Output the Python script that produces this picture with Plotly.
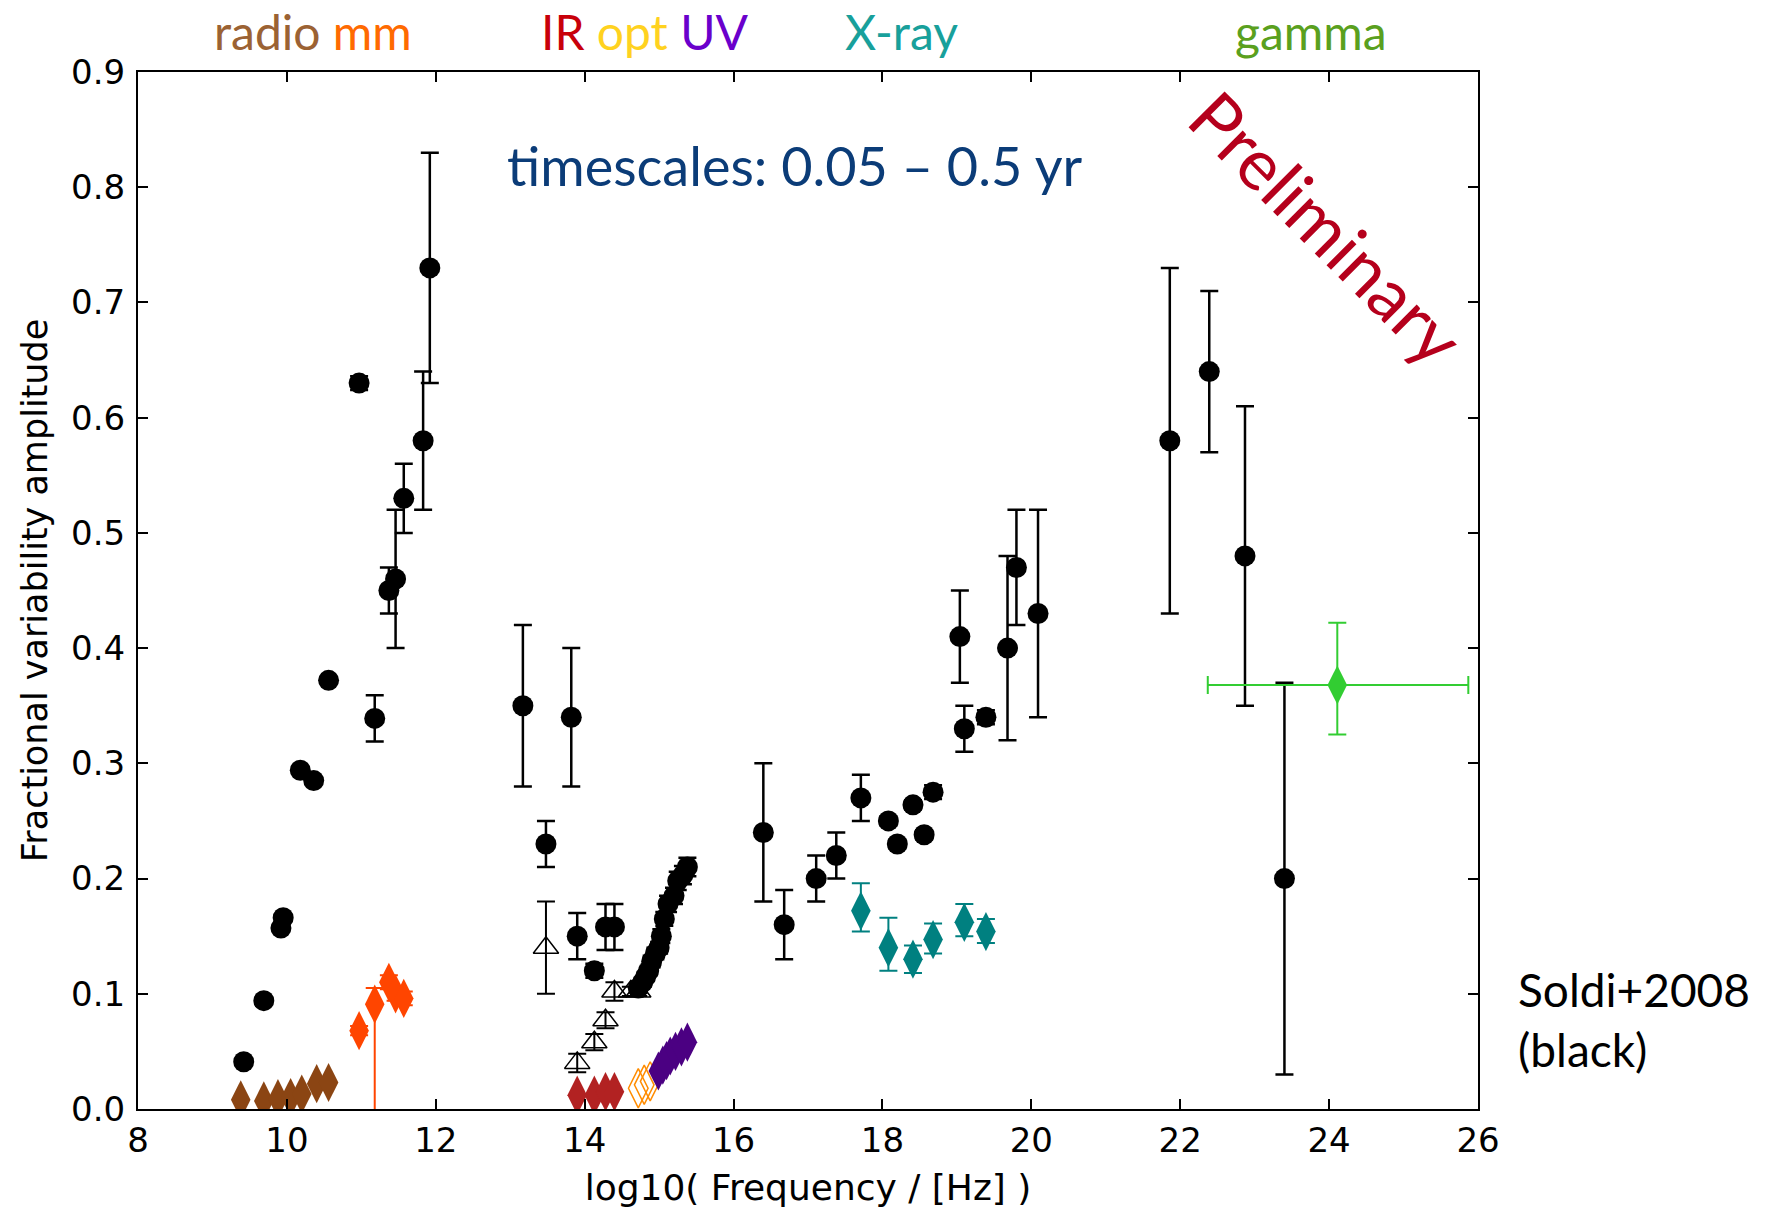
import plotly.graph_objects as go

# ---- Soldi+2008 (black circles) ----
blk_x = [9.42, 9.69, 9.92, 9.95, 10.18, 10.36, 10.56, 10.97, 11.18, 11.37, 11.46, 11.57, 11.83, 11.92,
         13.17, 13.82, 13.48, 13.90, 14.13, 14.28, 14.40,
         14.72, 14.78, 14.82, 14.86, 14.90, 14.95, 15.00, 15.03, 15.07, 15.12, 15.20, 15.25, 15.32, 15.38,
         16.40, 16.68, 17.11, 17.38, 17.71, 18.08, 18.20, 18.41, 18.56, 18.68,
         19.04, 19.10, 19.39, 19.68, 19.80, 20.09, 21.86, 22.39, 22.87, 23.40]
blk_y = [0.041, 0.094, 0.157, 0.166, 0.294, 0.285, 0.372, 0.630, 0.339, 0.450, 0.460, 0.530, 0.580, 0.730,
         0.350, 0.340, 0.230, 0.150, 0.120, 0.158, 0.158,
         0.105, 0.110, 0.115, 0.120, 0.128, 0.135, 0.140, 0.150, 0.165, 0.178, 0.185, 0.198, 0.203, 0.210,
         0.240, 0.160, 0.200, 0.220, 0.270, 0.250, 0.230, 0.264, 0.238, 0.275,
         0.410, 0.330, 0.340, 0.400, 0.470, 0.430, 0.580, 0.640, 0.480, 0.200]
blk_err = [0, 0, 0, 0, 0, 0, 0, 0.006, 0.020, 0.020, 0.060, 0.030, 0.060, 0.100,
           0.070, 0.060, 0.020, 0.020, 0.006, 0.020, 0.020,
           0.004, 0.004, 0.004, 0.004, 0.005, 0.005, 0.005, 0.006, 0.006, 0.007, 0.007, 0.008, 0.008, 0.008,
           0.060, 0.030, 0.020, 0.020, 0.020, 0.004, 0.004, 0.004, 0.004, 0.006,
           0.040, 0.020, 0.006, 0.080, 0.050, 0.090, 0.150, 0.070, 0.130, 0.170]

# ---- open triangles ----
tri_x = [13.48, 13.90, 14.13, 14.28, 14.40, 14.62, 14.72]
tri_y = [0.140, 0.040, 0.058, 0.077, 0.102, 0.102, 0.102]
tri_err = [0.040, 0.008, 0.007, 0.007, 0.008, 0.004, 0.004]

# ---- radio (brown) ----
rad_x = [9.38, 9.69, 9.88, 10.05, 10.20, 10.40, 10.56]
rad_y = [0.008, 0.007, 0.009, 0.010, 0.013, 0.022, 0.023]

# ---- mm (orange-red) ----
mm_x = [10.97, 11.18, 11.37, 11.46, 11.57]
mm_y = [0.068, 0.091, 0.110, 0.100, 0.096]
mm_errp = [0.004, 0.014, 0.006, 0.006, 0.006]
mm_errm = [0.004, 0.120, 0.006, 0.006, 0.006]

# ---- IR (firebrick) ----
ir_x = [13.90, 14.13, 14.28, 14.40]
ir_y = [0.012, 0.012, 0.015, 0.015]

# ---- optical (orange open) ----
opt_x = [14.72, 14.80, 14.88]
opt_y = [0.018, 0.021, 0.024]

# ---- UV (indigo) ----
uv_x = [14.99, 15.05, 15.10, 15.15, 15.22, 15.30, 15.38]
uv_y = [0.033, 0.038, 0.042, 0.046, 0.050, 0.054, 0.058]

# ---- X-ray (teal) ----
xr_x = [17.71, 18.08, 18.41, 18.68, 19.10, 19.39]
xr_y = [0.172, 0.140, 0.130, 0.147, 0.162, 0.154]
xr_errp = [0.024, 0.026, 0.012, 0.014, 0.016, 0.011]
xr_errm = [0.018, 0.020, 0.012, 0.012, 0.012, 0.010]

# ---- gamma (green) ----
gam_x = [24.11]
gam_y = [0.368]
gam_xerrp = [1.76]
gam_xerrm = [1.74]
gam_yerrp = [0.054]
gam_yerrm = [0.043]

x_ticks = [8, 10, 12, 14, 16, 18, 20, 22, 24, 26]
y_ticks = [0.0, 0.1, 0.2, 0.3, 0.4, 0.5, 0.6, 0.7, 0.8, 0.9]

fig = go.Figure()

DSIZE = 28

def diamonds(x, y, color, size=DSIZE, errp=None, errm=None, open_=False, ecolor=None, lw=1.5):
    ey = None
    if errp is not None:
        ey = dict(type='data', symmetric=False, array=errp, arrayminus=errm,
                  color=ecolor or color, thickness=2, width=9)
    fig.add_trace(go.Scatter(
        x=x, y=y, mode='markers', error_y=ey,
        marker=dict(symbol='diamond-tall-open' if open_ else 'diamond-tall', size=size, color=color,
                    line=dict(color=color, width=lw if open_ else 0)),
        showlegend=False))

diamonds(rad_x, rad_y, '#8B4513')
diamonds(mm_x, mm_y, '#FF4500', errp=mm_errp, errm=mm_errm)

fig.add_trace(go.Scatter(
    x=tri_x, y=tri_y, mode='markers',
    error_y=dict(type='data', array=tri_err, color='black', thickness=2, width=9),
    marker=dict(symbol='triangle-up-open', size=22, color='black', line=dict(color='black', width=1.5)),
    showlegend=False))

fig.add_trace(go.Scatter(
    x=blk_x, y=blk_y, mode='markers',
    error_y=dict(type='data', array=blk_err, color='black', thickness=2.5, width=9),
    marker=dict(symbol='circle', size=21, color='black'),
    showlegend=False))

diamonds(ir_x, ir_y, '#B22222')
diamonds(opt_x, opt_y, '#FF8C00', open_=True, lw=1.5)
diamonds(uv_x, uv_y, '#4B0082')
diamonds(xr_x, xr_y, '#008080', errp=xr_errp, errm=xr_errm)

fig.add_trace(go.Scatter(
    x=gam_x, y=gam_y, mode='markers',
    error_x=dict(type='data', symmetric=False, array=gam_xerrp, arrayminus=gam_xerrm,
                 color='#32CD32', thickness=2, width=9),
    error_y=dict(type='data', symmetric=False, array=gam_yerrp, arrayminus=gam_yerrm,
                 color='#32CD32', thickness=2, width=9),
    marker=dict(symbol='diamond-tall', size=DSIZE, color='#32CD32'),
    showlegend=False))

ann_font = "Lato"
top_y = 1.039
annotations = [
    dict(x=10.35, y=top_y, xref='x', yref='paper', showarrow=False, yanchor='middle', borderpad=0,
         text='<span style="color:#9B6233">radio</span> <span style="color:#FF6A00">mm</span>',
         font=dict(family=ann_font, size=48)),
    dict(x=14.81, y=top_y, xref='x', yref='paper', showarrow=False, yanchor='middle', borderpad=0,
         text='<span style="color:#C8000A">IR</span> <span style="color:#FFD21F">opt</span> '
              '<span style="color:#6A00CC">UV</span>',
         font=dict(family=ann_font, size=48)),
    dict(x=18.26, y=top_y, xref='x', yref='paper', showarrow=False, yanchor='middle', borderpad=0,
         text='<span style="color:#18A09B">X-ray</span>', font=dict(family=ann_font, size=48)),
    dict(x=23.75, y=top_y, xref='x', yref='paper', showarrow=False, yanchor='middle', borderpad=0,
         text='<span style="color:#5AA01E">gamma</span>', font=dict(family=ann_font, size=48)),
    dict(x=16.83, y=0.819, xref='x', yref='y', showarrow=False, xanchor='center', yanchor='middle',
         text='timescales: 0.05 – 0.5 yr', font=dict(family=ann_font, size=54, color='#0B3C78')),
    dict(x=23.98, y=0.765, xref='x', yref='y', showarrow=False, textangle=45,
         xanchor='center', yanchor='middle',
         text='Preliminary', font=dict(family=ann_font, size=71, color='#B5001C')),
    dict(x=1.028, y=0.086, xref='paper', yref='paper', showarrow=False, xanchor='left', yanchor='middle',
         align='left',
         text='Soldi+2008<br>(black)', font=dict(family=ann_font, size=46, color='black')),
]

axis_common = dict(showline=True, linecolor='black', linewidth=2, mirror='allticks',
                   ticks='inside', ticklen=10, tickwidth=1.5, tickcolor='black',
                   showgrid=False, zeroline=False, automargin=False,
                   tickfont=dict(family='DejaVu Sans', size=34, color='black'))

fig.update_layout(
    width=1765, height=1214,
    margin=dict(l=138, r=287, t=72, b=105),
    plot_bgcolor='white', paper_bgcolor='white',
    xaxis=dict(range=[8, 26], tickvals=x_ticks, ticktext=[str(v) for v in x_ticks],
               title=dict(text='log10( Frequency / [Hz] )', font=dict(family='DejaVu Sans', size=36, color='black'),
                          standoff=16),
               **axis_common),
    yaxis=dict(range=[0, 0.9], tickvals=y_ticks, ticktext=[f'{v:.1f}' for v in y_ticks],
               ticklabelstandoff=4,
               title=dict(text='Fractional variability amplitude', font=dict(family='DejaVu Sans', size=35, color='black'),
                          standoff=13),
               **axis_common),
    annotations=annotations,
)

# remove the default 8px page margin so the figure fills the window exactly; hide the modebar
fig.write_html("out.html", config={'displayModeBar': False},
               post_script="document.body.style.margin='0';")
